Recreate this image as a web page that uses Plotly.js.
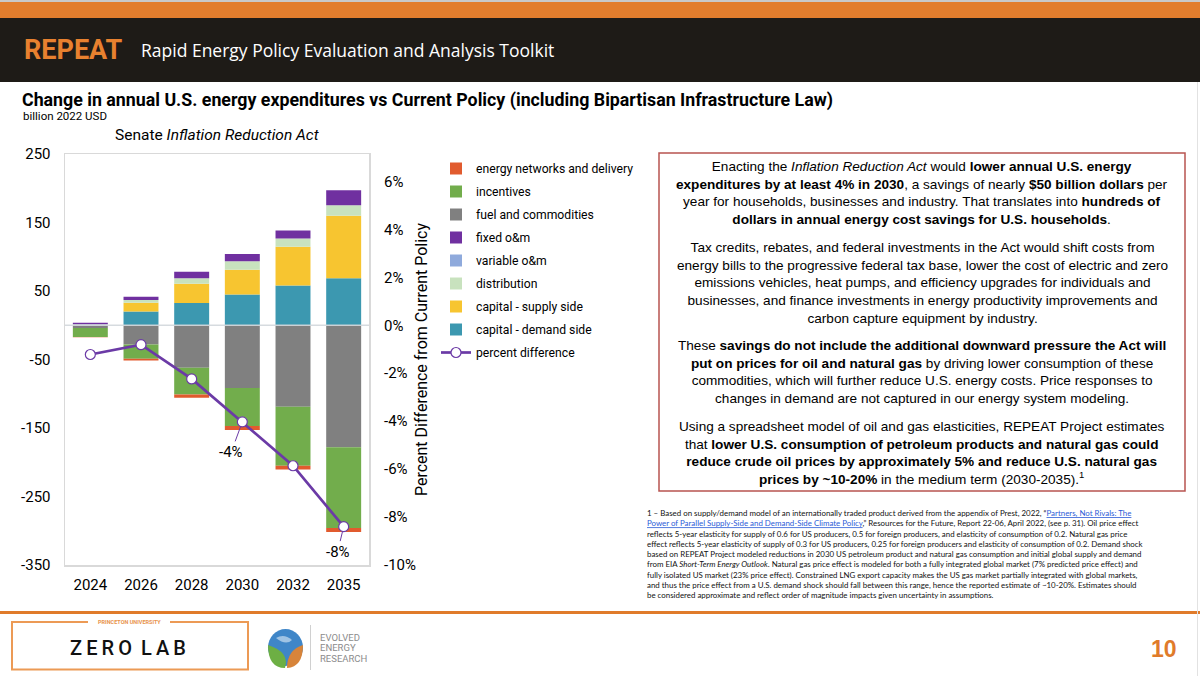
<!DOCTYPE html>
<html>
<head>
<meta charset="utf-8">
<script src="https://cdn.plot.ly/plotly-3.0.1.min.js"></script>
<style>html,body{margin:0;padding:0;background:#fff;}#chart{width:1200px;height:676px;}</style>
</head>
<body>
<div id="chart"></div>
<script>
// ---- data (billion 2022 USD) ----
const years = ['2024','2026','2028','2030','2032','2035'];
const capitalDemand = [0, 20, 32.5, 45, 58, 68.5];
const capitalSupply = [0, 13, 28, 36, 56.5, 91.5];
const distribution = [1, 4, 8, 12.5, 12, 15];
const variableOM = [0.5, 0, 0, 0, 0, 0];
const fixedOM = [2, 4.5, 9.5, 10.5, 12, 22];
const fuelCommodities = [-4, -28, -62, -91.5, -119, -178];
const incentives = [-13, -21, -39, -55.5, -86, -118];
const energyNetworks = [-0.5, -2.5, -5, -6, -5.5, -6];
const percentDifference = [-0.0122, -0.0081, -0.0224, -0.0403, -0.0586, -0.0840];
const leftTicks = [250, 150, 50, -50, -150, -250, -350];
const leftTickText = ['250', '150', '50', '-50', '-150', '-250', '-350'];
const rightTicks = [0.06, 0.04, 0.02, 0, -0.02, -0.04, -0.06, -0.08, -0.10];
const rightTickText = ['6%','4%','2%','0%','-2%','-4%','-6%','-8%','-10%'];

// ---- pixel helpers for decorations (plot area 65..369 x 154..565) ----
const PL = 65, PR = 369, PT = 154, PB = 565;
const X = p => (p - PL) / (PR - PL);
const Y = p => (PB - p) / (PB - PT);

const F = 'Roboto, "Noto Sans", sans-serif';
const A = '"Liberation Sans", Arial, sans-serif';

function bar(name, y, color, rank) {
  return {type: 'bar', name: name, x: years, y: y, marker: {color: color, line: {width: 0}},
          legendrank: rank, legendgroup: name, hoverinfo: 'name+y'};
}
const traces = [
  bar('capital - demand side', capitalDemand, '#3C98B0', 8),
  bar('capital - supply side', capitalSupply, '#F7C530', 7),
  bar('distribution', distribution, '#C8E2BE', 6),
  bar('variable o&m', variableOM, '#8FAADC', 5),
  bar('fixed o&m', fixedOM, '#7030A0', 4),
  bar('fuel and commodities', fuelCommodities, '#808080', 3),
  bar('incentives', incentives, '#72AD4C', 2),
  bar('energy networks and delivery', energyNetworks, '#E15B2E', 1),
  {type: 'scatter', mode: 'lines+markers', name: 'percent difference', x: years, y: percentDifference,
   yaxis: 'y2', legendrank: 9, legendgroup: 'pct',
   line: {color: '#6B3AA6', width: 2.7},
   marker: {size: 10, color: '#ffffff', line: {color: '#6B3AA6', width: 1.2}}}
];

const shapes = [];
const annotations = [];
function rect(x0, y0, x1, y1, fill, line, lw, layer) {
  shapes.push({type: 'rect', xref: 'paper', yref: 'paper', x0: X(x0), x1: X(x1), y0: Y(y1), y1: Y(y0),
               fillcolor: fill || 'rgba(0,0,0,0)', line: {color: line || 'rgba(0,0,0,0)', width: lw || 0}, layer: layer || 'above'});
}
function seg(x0, y0, x1, y1, color, w) {
  shapes.push({type: 'line', xref: 'paper', yref: 'paper', x0: X(x0), x1: X(x1), y0: Y(y0), y1: Y(y1),
               line: {color: color, width: w}, layer: 'above'});
}
function txt(x, y, text, size, color, opts) {
  opts = opts || {};
  annotations.push(Object.assign({xref: 'paper', yref: 'paper', x: X(x), y: Y(y), text: text, showarrow: false,
    xanchor: 'center', yanchor: 'middle', align: 'center',
    font: Object.assign({family: opts.family || F, size: size, color: color}, opts.font || {})}, opts.extra || {}));
}

// header
rect(0, 0, 1200, 18, '#E27D2D');
rect(0, 0, 1200, 2, '#C9C9C9');
rect(0, 18, 1200, 82, '#1E1B17');
txt(22, 50, '<b>REPEAT</b>', 27, '#E8812F', {extra: {xanchor: 'left'}});
txt(139, 50, 'Rapid Energy Policy Evaluation and Analysis Toolkit', 17.5, '#ffffff', {family: '"Open Sans", sans-serif', extra: {xanchor: 'left'}});

// slide subtitle + chart subtitle
txt(21, 116, 'billion 2022 USD', 11.5, '#000000', {extra: {xanchor: 'left'}});
txt(217, 135, 'Senate <i>Inflation Reduction Act</i>', 15.5, '#000000');

// zero line above bars
shapes.push({type: 'line', xref: 'paper', yref: 'y', x0: 0, x1: 1, y0: 0, y1: 0,
             line: {color: 'rgba(210,215,220,0.9)', width: 1.5}, layer: 'above'});

// data labels with leader lines (x given as category index)
annotations.push({xref: 'x', yref: 'y2', x: years.indexOf('2030'), y: percentDifference[3], text: '-4%', showarrow: true,
  arrowhead: 0, arrowwidth: 1, arrowcolor: '#6B3AA6', ax: -11, ay: 30, standoff: 5,
  font: {family: F, size: 15, color: '#000'}});
annotations.push({xref: 'x', yref: 'y2', x: years.indexOf('2035'), y: percentDifference[5], text: '-8%', showarrow: true,
  arrowhead: 0, arrowwidth: 1, arrowcolor: '#6B3AA6', ax: -6, ay: 25, standoff: 5,
  font: {family: F, size: 15, color: '#000'}});

// text box
rect(659, 153, 1185, 491, null, '#B85450', 1.5);
const para1 = 'Enacting the <i>Inflation Reduction Act</i> would <b>lower annual U.S. energy</b><br>' +
  '<b>expenditures by at least 4% in 2030</b>, a savings of nearly <b>$50 billion dollars</b> per<br>' +
  'year for households, businesses and industry. That translates into <b>hundreds of</b><br>' +
  '<b>dollars in annual energy cost savings for U.S. households</b>.';
const para2 = 'Tax credits, rebates, and federal investments in the Act would shift costs from<br>' +
  'energy bills to the progressive federal tax base, lower the cost of electric and zero<br>' +
  'emissions vehicles, heat pumps, and efficiency upgrades for individuals and<br>' +
  'businesses, and finance investments in energy productivity improvements and<br>' +
  'carbon capture equipment by industry.';
const para3 = 'These <b>savings do not include the additional downward pressure the Act will</b><br>' +
  '<b>put on prices for oil and natural gas</b> by driving lower consumption of these<br>' +
  'commodities, which will further reduce U.S. energy costs. Price responses to<br>' +
  'changes in demand are not captured in our energy system modeling.';
const para4 = 'Using a spreadsheet model of oil and gas elasticities, REPEAT Project estimates<br>' +
  'that <b>lower U.S. consumption of petroleum products and natural gas could</b><br>' +
  '<b>reduce crude oil prices by approximately 5% and reduce U.S. natural gas</b><br>' +
  '<b>prices by ~10-20%</b> in the medium term (2030-2035).<sup>1</sup>';
txt(922, 193, para1, 13.6, '#000', {family: A});
txt(922, 282.5, para2, 13.6, '#000', {family: A});
txt(922, 372, para3, 13.6, '#000', {family: A});
txt(922, 453, para4, 13.6, '#000', {family: A});

// footnote
const foot = '1 – Based on supply/demand model of an internationally traded product derived from the appendix of Prest, 2022, “<span style="color:#2B5BD7;text-decoration:underline">Partners, Not Rivals: The</span><br>' +
  '<span style="color:#2B5BD7;text-decoration:underline">Power of Parallel Supply-Side and Demand-Side Climate Policy</span>,” Resources for the Future, Report 22-06, April 2022, (see p. 31). Oil price effect<br>' +
  'reflects 5-year elasticity for supply of 0.6 for US producers, 0.5 for foreign producers, and elasticity of consumption of 0.2. Natural gas price<br>' +
  'effect reflects 5-year elasticity of supply of 0.3 for US producers, 0.25 for foreign producers and elasticity of consumption of 0.2. Demand shock<br>' +
  'based on REPEAT Project modeled reductions in 2030 US petroleum product and natural gas consumption and initial global supply and demand<br>' +
  'from EIA <i>Short-Term Energy Outlook</i>. Natural gas price effect is modeled for both a fully integrated global market (7% predicted price effect) and<br>' +
  'fully isolated US market (23% price effect). Constrained LNG export capacity makes the US gas market partially integrated with global markets,<br>' +
  'and thus the price effect from a U.S. demand shock should fall between this range, hence the reported estimate of ~10-20%. Estimates should<br>' +
  'be considered approximate and reflect order of magnitude impacts given uncertainty in assumptions.';
txt(645, 554, foot, 7.9, '#111', {family: 'Lato, "Open Sans", sans-serif', extra: {xanchor: 'left', align: 'left'}});

// footer
seg(0, 612.5, 1200, 612.5, '#E07B2A', 3);
seg(1197.5, 82, 1197.5, 676, '#E2E2E2', 1);
const ob = '#EC9A55';
seg(12, 622, 88, 622, ob, 2);
seg(170, 622, 248, 622, ob, 2);
seg(12, 621, 12, 670, ob, 2);
seg(248, 621, 248, 670, ob, 2);
seg(11, 669.5, 249, 669.5, ob, 2);
txt(129, 622, '<b>PRINCETON UNIVERSITY</b>', 5.5, '#E8924C');
txt(128, 648, 'Z\u2009E\u2009R\u2009O\u2009 L\u2009A\u2009B', 20, '#111', {font: {weight: 500}});
// evolved energy logo (decorative)
shapes.push({type: 'circle', xref: 'paper', yref: 'paper', x0: X(268), x1: X(303), y0: Y(666), y1: Y(629),
             fillcolor: '#3F86C8', line: {width: 0}, layer: 'above'});
shapes.push({type: 'path', xref: 'paper', yref: 'paper', layer: 'above', fillcolor: '#6DAF44', line: {width: 0},
  path: 'M ' + X(268) + ',' + Y(645) + ' Q ' + X(268) + ',' + Y(668) + ' ' + X(285) + ',' + Y(668) +
        ' Q ' + X(290) + ',' + Y(652) + ' ' + X(268) + ',' + Y(645) + ' Z'});
shapes.push({type: 'path', xref: 'paper', yref: 'paper', layer: 'above', fillcolor: '#D7843A', line: {width: 0},
  path: 'M ' + X(303) + ',' + Y(645) + ' Q ' + X(303) + ',' + Y(667) + ' ' + X(287) + ',' + Y(668) +
        ' Q ' + X(287) + ',' + Y(650) + ' ' + X(303) + ',' + Y(645) + ' Z'});
shapes.push({type: 'path', xref: 'paper', yref: 'paper', layer: 'above', fillcolor: '#ffffff', line: {width: 0},
  path: 'M ' + X(276) + ',' + Y(638) + ' Q ' + X(284) + ',' + Y(633) + ' ' + X(292) + ',' + Y(640) +
        ' Q ' + X(286) + ',' + Y(646) + ' ' + X(276) + ',' + Y(638) + ' Z', opacity: 0.5});
seg(310.5, 625, 310.5, 670, '#D0D0D0', 1);
txt(318, 637, 'EVOLVED', 9.5, '#8C8C8C', {extra: {xanchor: 'left'}});
txt(318, 647.5, 'ENERGY', 9.5, '#8C8C8C', {extra: {xanchor: 'left'}});
txt(318, 658, 'RESEARCH', 9.5, '#8C8C8C', {extra: {xanchor: 'left'}});
txt(1164, 649, '<b>10</b>', 23, '#E07B2A', {family: A});

const layout = {
  width: 1200, height: 676,
  paper_bgcolor: '#ffffff', plot_bgcolor: '#ffffff',
  margin: {l: PL, r: 1200 - PR, t: PT, b: 676 - PB, pad: 0, autoexpand: false},
  title: {text: '<b>Change in annual U.S. energy expenditures vs Current Policy (including Bipartisan Infrastructure Law)</b>',
          x: 22 / 1200, xref: 'container', xanchor: 'left', y: 1 - 100 / 676, yref: 'container', yanchor: 'middle',
          font: {family: F, size: 17.8, color: '#000'}},
  barmode: 'relative', bargap: 0.31,
  showlegend: true,
  legend: {xref: 'container', yref: 'container', x: 436 / 1200, y: 1 - 154 / 676, xanchor: 'left', yanchor: 'top',
           font: {family: F, size: 12.2, color: '#000'}, tracegroupgap: 4, bgcolor: 'rgba(0,0,0,0)'},
  xaxis: {type: 'category', range: [-0.5, 5.5], showgrid: false, showline: true, mirror: true, linecolor: '#D9D9D9', linewidth: 1.5,
          ticks: 'outside', ticklen: 5, tickcolor: 'rgba(0,0,0,0)', automargin: false,
          tickfont: {family: F, size: 15, color: '#000'}},
  yaxis: {range: [-350, 250], tickvals: leftTicks, ticktext: leftTickText, showgrid: false, zeroline: false,
          showline: true, mirror: true, linecolor: '#D9D9D9', linewidth: 1.5, automargin: false,
          ticks: 'outside', ticklen: 10, tickcolor: 'rgba(0,0,0,0)',
          tickfont: {family: F, size: 15, color: '#000'}},
  yaxis2: {overlaying: 'y', side: 'right', range: [-0.10, 0.25 / 3.5], tickvals: rightTicks, ticktext: rightTickText,
           showgrid: false, zeroline: false, showline: false, automargin: false,
           ticks: 'outside', ticklen: 11, tickcolor: 'rgba(0,0,0,0)',
           tickfont: {family: F, size: 15, color: '#000'},
           title: {text: 'Percent Difference from Current Policy', font: {family: F, size: 16, color: '#000'}, standoff: 0}},
  shapes: shapes, annotations: annotations
};
Plotly.newPlot('chart', traces, layout, {displayModeBar: false, staticPlot: true});
</script>
</body>
</html>
